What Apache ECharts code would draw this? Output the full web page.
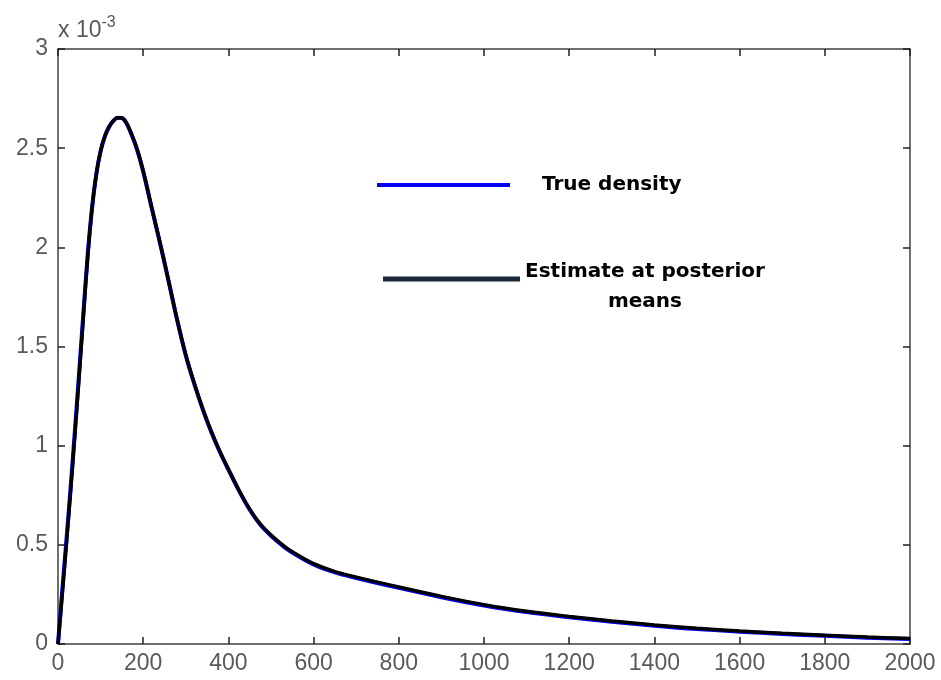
<!DOCTYPE html>
<html>
<head>
<meta charset="utf-8">
<script src="https://cdn.jsdelivr.net/npm/echarts@6/dist/echarts.min.js"></script>
<style>
  html, body { margin: 0; padding: 0; background: #fff; }
  #canvas { width: 941px; height: 680px; }
</style>
</head>
<body>
<div id="canvas"></div>
<script>
// x positions and density values (in units of 1e-3)
var xs = [0, 10, 20, 30, 40, 50, 60, 70, 80, 90, 100, 110, 120, 130, 140, 150, 160, 170,
  185, 200, 220, 242, 260, 280, 300, 320, 340, 360, 380, 400,
  425, 450, 475, 500, 530, 550, 600, 650, 700,
  800, 900, 1000, 1100, 1200, 1300, 1400, 1500, 1600, 1700, 1800, 1900, 2000];
var trueDensity = [0, 0.27, 0.53, 0.8, 1.085, 1.38, 1.68, 1.97, 2.2, 2.37, 2.485, 2.56, 2.608, 2.638, 2.653, 2.652, 2.628, 2.582,
  2.497, 2.382, 2.198, 1.998, 1.825, 1.631, 1.455, 1.311, 1.182, 1.068, 0.968, 0.879,
  0.772, 0.677, 0.601, 0.546, 0.491, 0.461, 0.401, 0.361, 0.333,
  0.283, 0.236, 0.194, 0.161, 0.135, 0.112, 0.092, 0.075, 0.062, 0.051, 0.041, 0.032, 0.025];
var estimate = [0, 0.25, 0.51, 0.78, 1.065, 1.36, 1.665, 1.96, 2.2, 2.37, 2.485, 2.56, 2.608, 2.638, 2.653, 2.652, 2.63, 2.585,
  2.5, 2.385, 2.2, 2.0, 1.827, 1.633, 1.457, 1.313, 1.185, 1.071, 0.971, 0.882,
  0.775, 0.68, 0.605, 0.55, 0.495, 0.465, 0.405, 0.365, 0.337,
  0.287, 0.24, 0.198, 0.165, 0.139, 0.116, 0.096, 0.079, 0.065, 0.054, 0.044, 0.035, 0.028];
var xTicks = { min: 0, max: 2000, interval: 200 };
var yTicks = { min: 0, max: 3, interval: 0.5 };

function pairs(vals) {
  return xs.map(function (x, i) { return [x, vals[i]]; });
}

var chart = echarts.init(document.getElementById('canvas'));

var axisColor = '#404040';
var sans = 'Liberation Sans, Arial, sans-serif';
var labelStyle = { color: '#5a5a5a', fontSize: 23, fontFamily: sans };
var legendText = { fontSize: 20, fontWeight: 'bold', color: '#000', fontFamily: 'DejaVu Sans, sans-serif' };

function boxAxis(base, pos, showLabel) {
  return Object.assign({
    type: 'value',
    position: pos,
    axisLine: { show: true, onZero: false, lineStyle: { color: axisColor, width: 1.5 } },
    axisTick: { show: true, inside: true, length: 7, lineStyle: { color: '#202020', width: 1.5 } },
    axisLabel: Object.assign({ show: showLabel }, labelStyle),
    splitLine: { show: false }
  }, base);
}

var option = {
  animation: false,
  backgroundColor: '#fff',
  grid: { left: 58, right: 31, top: 49, bottom: 36 },
  legend: [
    {
      data: ['True density'], left: 377, top: 175, padding: 0, selectedMode: false,
      icon: 'rect', itemWidth: 133, itemHeight: 4,
      textStyle: Object.assign({ padding: [0, 0, 0, 27] }, legendText)
    },
    {
      data: ['Estimate at posterior means'], left: 383, top: 262, padding: 0, selectedMode: false,
      icon: 'rect', itemWidth: 137, itemHeight: 5,
      formatter: function () { return '{a|Estimate at posterior}\n{b|means}'; },
      textStyle: Object.assign({
        padding: [16, 0, 0, 0],
        rich: {
          a: Object.assign({ lineHeight: 30 }, legendText),
          b: Object.assign({ lineHeight: 30, align: 'center' }, legendText)
        }
      }, legendText)
    }
  ],
  xAxis: [
    boxAxis(Object.assign({
      axisLabel: Object.assign({ show: true, margin: 8, formatter: function (v) { return String(v); } }, labelStyle)
    }, xTicks), 'bottom', true),
    boxAxis(Object.assign({}, xTicks), 'top', false)
  ],
  yAxis: [
    boxAxis(Object.assign({
      axisLabel: Object.assign({ show: true, margin: 10 }, labelStyle),
      name: '{a|x 10}{b|-3}',
      nameLocation: 'end',
      nameGap: 2,
      nameTextStyle: {
        align: 'left',
        fontSize: 23,
        rich: {
          a: { fontSize: 23, color: '#5a5a5a', fontFamily: sans },
          b: { fontSize: 16, color: '#5a5a5a', fontFamily: sans, padding: [0, 0, 16, 0] }
        }
      }
    }, yTicks), 'left', true),
    boxAxis(Object.assign({}, yTicks), 'right', false)
  ],
  series: [
    {
      name: 'True density', type: 'line', data: pairs(trueDensity),
      showSymbol: false, smooth: 0.35, color: '#0000ff',
      lineStyle: { color: '#0000ff', width: 4 }, z: 2
    },
    {
      name: 'Estimate at posterior means', type: 'line', data: pairs(estimate),
      showSymbol: false, smooth: 0.35, color: '#1a2838',
      lineStyle: { color: '#000000', width: 3.5 }, z: 3
    }
  ]
};

chart.setOption(option);
</script>
</body>
</html>
